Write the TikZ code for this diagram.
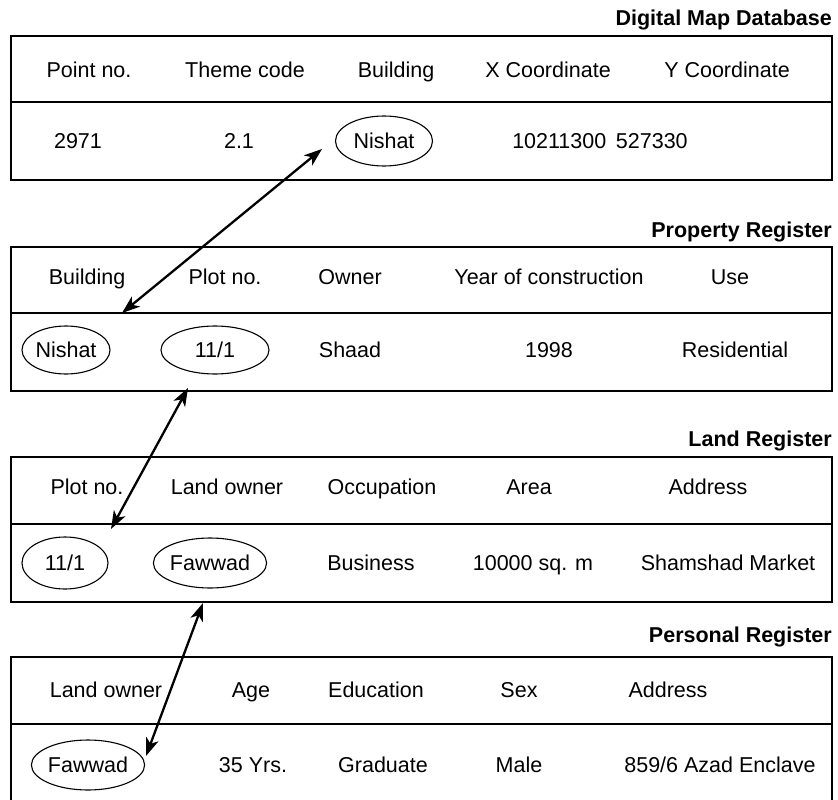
\documentclass[tikz,border=0pt]{standalone}
\usepackage{fontspec}
\setmainfont{Liberation Sans}
\usetikzlibrary{shapes.geometric,arrows.meta}
\begin{document}
\begin{tikzpicture}[x=1pt,y=-1pt,
  cell/.style={font=\fontsize{21.5}{26}\selectfont, inner sep=0pt, anchor=base, yshift=-7.6pt},
  oval/.style={ellipse, draw, line width=1.1pt, inner sep=0pt, font=\fontsize{21.5}{26}\selectfont},
  ttl/.style={font=\bfseries\fontsize{21.5}{26}\selectfont, inner sep=0pt, anchor=base east},
  tbl/.style={line width=1.8pt},
  sep/.style={line width=1.5pt},
  arr/.style={line width=2.3pt, {Stealth[length=18pt,width=13pt,inset=5pt]}-{Stealth[length=18pt,width=13pt,inset=5pt]}}
]
\useasboundingbox (0,0) rectangle (838,800);

% ---------- Digital Map Database ----------
\node[ttl] (t1) at (832,26) {Digital Map Database};
\draw[tbl] (11,36) rectangle (832,180);
\draw[sep] (11,102) -- (832,102);
\node[cell] (h11) at (89,70) {Point no.};
\node[cell] (h12) at (245,70) {Theme code};
\node[cell] (h13) at (396,70) {Building};
\node[cell] (h14) at (548,70) {X Coordinate};
\node[cell] (h15) at (727,70) {Y Coordinate};
\node[cell] (d11) at (78,141) {2971};
\node[cell] (d12) at (239,141) {2.1};
\node[oval, minimum width=97pt, minimum height=50pt] (nishatA) at (384,141) {Nishat};
\node[cell] (d14) at (600,141) {10211300\hspace{0.45em}527330};

% ---------- Property Register ----------
\node[ttl] (t2) at (832,237) {Property Register};
\draw[tbl] (11,247) rectangle (832,391);
\draw[sep] (11,313) -- (832,313);
\node[cell] (h21) at (87,277) {Building};
\node[cell] (h22) at (225,277) {Plot no.};
\node[cell] (h23) at (350,277) {Owner};
\node[cell] (h24) at (549,277) {Year of construction};
\node[cell] (h25) at (730,277) {Use};
\node[oval, minimum width=88pt, minimum height=48pt] (nishatB) at (66,350) {Nishat};
\node[oval, minimum width=108pt, minimum height=48pt] (plotB) at (215,350) {11/1};
\node[cell] (d23) at (350,350) {Shaad};
\node[cell] (d24) at (549,350) {1998};
\node[cell] (d25) at (735,350) {Residential};

% ---------- Land Register ----------
\node[ttl] (t3) at (832,446) {Land Register};
\draw[tbl] (11,457) rectangle (832,602);
\draw[sep] (11,524) -- (832,524);
\node[cell] (h31) at (87,487) {Plot no.};
\node[cell] (h32) at (227,487) {Land owner};
\node[cell] (h33) at (382,487) {Occupation};
\node[cell] (h34) at (529,487) {Area};
\node[cell] (h35) at (708,487) {Address};
\node[oval, minimum width=86pt, minimum height=52pt] (plotC) at (65,563) {11/1};
\node[oval, minimum width=108pt, minimum height=50pt] (fawwadC) at (210,563) {Fawwad};
\node[cell] (d33) at (371,563) {Business};
\node[cell] (d34) at (533,563) {10000 sq. m};
\node[cell] (d35) at (728,563) {Shamshad Market};

% ---------- Personal Register ----------
\node[ttl] (t4) at (832,642) {Personal Register};
\draw[tbl] (11,657) rectangle (832,802);
\draw[sep] (11,724) -- (832,724);
\node[cell] (h41) at (106,690) {Land owner};
\node[cell] (h42) at (251,690) {Age};
\node[cell] (h43) at (376,690) {Education};
\node[cell] (h44) at (519,690) {Sex};
\node[cell] (h45) at (668,690) {Address};
\node[oval, minimum width=110pt, minimum height=50pt] (fawwadD) at (88,765) {Fawwad};
\node[cell] (d42) at (253,765) {35 Yrs.};
\node[cell] (d43) at (383,765) {Graduate};
\node[cell] (d44) at (519,765) {Male};
\node[cell] (d45) at (720,765) {859/6 Azad Enclave};

% ---------- links ----------
\coordinate (a1s) at (322,149);
\coordinate (a1e) at (122,313);
\coordinate (a2s) at (188,388);
\coordinate (a2e) at (111,529);
\coordinate (a3s) at (203,603);
\coordinate (a3e) at (146,756);
\draw[arr] (a1s) -- (a1e);
\draw[arr] (a2s) -- (a2e);
\draw[arr] (a3s) -- (a3e);
\end{tikzpicture}
\end{document}
